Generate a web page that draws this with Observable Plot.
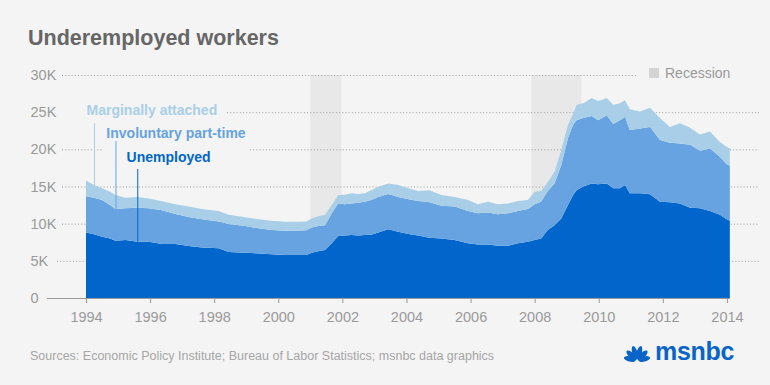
<!DOCTYPE html>
<html>
<head>
<meta charset="utf-8">
<script src="https://cdn.jsdelivr.net/npm/d3@7"></script>
<script src="https://cdn.jsdelivr.net/npm/@observablehq/plot@0.6"></script>
<style>
  html, body { margin: 0; padding: 0; background: #f4f4f4; }
  #wrap { position: relative; width: 770px; height: 385px; background: #f4f4f4; overflow: hidden;
          font-family: "Liberation Sans", Arial, Helvetica, sans-serif; }
  #chart { position: absolute; left: 0; top: 0; }
  .abs { position: absolute; line-height: 1; white-space: nowrap; }
  #title { left: 28px; top: 27.8px; font-size: 21.5px; font-weight: bold; color: #666; }
  #source { left: 30px; top: 350.2px; font-size: 12.5px; color: #a6a6a6; }
  #legSw { left: 649px; top: 68px; width: 10px; height: 10px; background: #d4d4d4; }
  #legTx { left: 665px; top: 66.4px; font-size: 14px; color: #9a9a9a; }
  #logoTx { left: 655px; top: 338.8px; font-size: 25px; font-weight: bold; color: #0a64c8; letter-spacing: -0.3px; }
  #peacock { position: absolute; left: 622px; top: 343px; }
</style>
</head>
<body>
<div id="wrap">
  <div id="chart"></div>
  <div id="title" class="abs">Underemployed workers</div>
  <div id="legSw" class="abs"></div>
  <div id="legTx" class="abs">Recession</div>
  <div id="source" class="abs">Sources: Economic Policy Institute; Bureau of Labor Statistics; msnbc data graphics</div>
  <svg id="peacock" width="30" height="20" viewBox="0 0 30 20">
    <g fill="#0a64c8" transform="translate(15,18)">
      <ellipse cx="0" cy="-7.5" rx="2.6" ry="6" transform="rotate(-75)"/>
      <ellipse cx="0" cy="-8" rx="2.6" ry="6.5" transform="rotate(-45)"/>
      <ellipse cx="0" cy="-8.5" rx="2.6" ry="7" transform="rotate(-15)"/>
      <ellipse cx="0" cy="-8.5" rx="2.6" ry="7" transform="rotate(15)"/>
      <ellipse cx="0" cy="-8" rx="2.6" ry="6.5" transform="rotate(45)"/>
      <ellipse cx="0" cy="-7.5" rx="2.6" ry="6" transform="rotate(75)"/>
    </g>
  </svg>
  <div id="logoTx" class="abs">msnbc</div>
</div>
<script>
// Time (decimal years) and series values in thousands of workers
const years = [1994.00,1994.25,1994.50,1994.75,1994.92,1995.23,1995.60,1995.96,1996.37,1996.79,
  1997.20,1997.62,1998.14,1998.45,1998.97,1999.38,1999.79,2000.20,2000.62,2000.88,
  2001.04,2001.25,2001.46,2001.67,2001.87,2002.08,2002.29,2002.50,2002.70,2002.90,
  2003.12,2003.43,2003.74,2004.06,2004.36,2004.72,2005.09,2005.50,2005.92,2006.23,
  2006.54,2006.85,2007.17,2007.48,2007.79,2008.00,2008.20,2008.41,2008.62,2008.83,
  2009.04,2009.20,2009.31,2009.52,2009.78,2009.98,2010.25,2010.45,2010.66,2010.82,
  2010.97,2011.29,2011.60,2011.91,2012.22,2012.53,2012.85,2013.16,2013.47,2013.78,
  2013.99,2014.09];
const unemployed = [8.8,8.57,8.25,8.0,7.7,7.8,7.57,7.57,7.26,7.26,
  7.0,6.8,6.7,6.2,6.1,6.0,5.9,5.78,5.78,5.8,
  6.1,6.3,6.45,7.35,8.34,8.4,8.47,8.4,8.47,8.5,
  8.8,9.24,8.9,8.6,8.4,8.1,8.0,7.8,7.35,7.2,
  7.2,7.03,7.03,7.35,7.57,7.8,8.0,9.15,9.8,10.7,
  12.5,13.85,14.5,15.0,15.4,15.3,15.4,14.75,14.75,15.2,
  14.1,14.1,13.95,12.95,12.87,12.7,12.15,12.06,11.7,11.2,
  10.6,10.4];
const partTime = [4.9,4.93,4.95,4.5,4.27,4.26,4.58,4.49,4.54,4.04,
  3.9,3.8,3.6,3.75,3.6,3.37,3.25,3.27,3.27,3.3,
  3.4,3.4,3.35,4.05,4.36,4.2,4.23,4.4,4.48,4.7,
  4.8,4.76,4.7,4.7,4.65,4.77,4.4,4.5,4.35,4.2,
  4.3,4.23,4.37,4.35,4.4,4.8,4.95,5.25,5.6,7.2,
  9.0,9.45,9.4,9.2,9.1,8.6,9.2,8.65,9.15,9.2,
  8.5,8.7,9.05,8.3,8.03,8.1,8.45,7.74,8.4,7.8,
  7.4,7.4];
const marginal = [2.1,1.7,1.55,1.8,1.88,1.44,1.45,1.34,1.2,1.3,
  1.4,1.37,1.4,1.25,1.15,1.23,1.25,1.22,1.22,1.2,
  1.2,1.3,1.4,1.1,1.15,1.3,1.4,1.2,1.15,1.3,
  1.37,1.4,1.6,1.45,1.35,1.63,1.45,1.3,1.5,1.2,
  1.45,1.34,1.3,1.35,1.23,1.7,1.45,1.2,1.6,2.0,
  1.8,1.5,2.1,2.0,2.4,2.6,2.3,2.6,2.3,2.2,
  2.8,2.3,2.6,2.95,2.1,2.7,2.3,2.2,2.3,2.0,
  2.35,2.3];

const seriesNames = ["Unemployed", "Involuntary part-time", "Marginally attached"];
const seriesColors = ["#0066cc", "#66a3e0", "#a9cfe8"];

const recessionStart = [2001.0, 2007.9];
const recessionEnd = [2001.97, 2009.46];

const yTicks = [0, 5, 10, 15, 20, 25, 30];
const xTicks = [1994, 1996, 1998, 2000, 2002, 2004, 2006, 2008, 2010, 2012, 2014];

// Label annotations (data units) and the data index each leader points to
const labelX = [1994.0, 1994.62, 1995.25];
const labelY = [25.3, 22.2, 18.9];
const leaderTop = [23.5, 21.1, 17.35];
const leaderIndex = [1, 4, 6];

const table = [];
years.forEach((yr, i) => {
  table.push({year: yr, series: seriesNames[0], value: unemployed[i]});
  table.push({year: yr, series: seriesNames[1], value: partTime[i]});
  table.push({year: yr, series: seriesNames[2], value: marginal[i]});
});
const recessions = recessionStart.map((s, i) => ({start: s, end: recessionEnd[i]}));

const layerTotals = [
  i => unemployed[i],
  i => unemployed[i] + partTime[i],
  i => unemployed[i] + partTime[i] + marginal[i]
];
const labels = [2, 1, 0].map((s, k) => ({
  name: seriesNames[s], color: seriesColors[s],
  lx: labelX[k], ly: labelY[k],
  x: years[leaderIndex[k]], top: leaderTop[k], bottom: layerTotals[s](leaderIndex[k])
}));

const font = '"Liberation Sans", Arial, Helvetica, sans-serif';
const grid = {stroke: "#9a9a9a", strokeDasharray: "1,2.2"};
const chart = Plot.plot({
  width: 770,
  height: 385,
  marginLeft: 86,
  marginRight: 11,
  marginTop: 75,
  marginBottom: 87,
  style: {background: "transparent", fontFamily: font, fontSize: "14.5px", color: "#999", overflow: "visible"},
  x: {domain: [1994, 2015], axis: null},
  y: {domain: [0, 30], axis: null},
  color: {domain: seriesNames, range: seriesColors},
  marks: [
    Plot.rect(recessions, {x1: "start", x2: "end", y1: 0, y2: 30, fill: "#e8e8e8"}),
    Plot.ruleY([10, 15], {...grid, insetLeft: -24}),
    Plot.ruleY([5], {...grid, insetLeft: -29}),
    Plot.ruleY([30], {...grid, insetLeft: -24, insetRight: 121}),
    Plot.ruleY([25], {...grid, insetLeft: 141}),
    Plot.ruleY([20], {...grid, insetLeft: -24, insetRight: 656}),
    Plot.ruleY([20], {...grid, insetLeft: 164}),
    Plot.areaY(table, {x: "year", y: "value", z: "series", fill: "series", order: seriesNames, curve: "linear"}),
    Plot.ruleY([0], {stroke: "#9a9a9a", strokeWidth: 1.2, insetLeft: -39, insetRight: 29}),
    Plot.axisX({ticks: xTicks, tickSize: 5, tickPadding: 8, tickFormat: d => String(d),
      fontSize: 14.5, color: "#9a9a9a", label: null}),
    Plot.text(yTicks, {y: d => d, text: d => d === 0 ? "0" : d + "K", frameAnchor: "left",
      textAnchor: "start", dx: -56, fill: "#9a9a9a", fontSize: 14.5}),
    Plot.ruleX(labels, {x: "x", y1: "top", y2: "bottom", stroke: "color", strokeWidth: 1}),
    Plot.text(labels, {x: "lx", y: "ly", text: "name", fill: "color", textAnchor: "start",
      fontWeight: "bold", fontSize: 14})
  ]
});
document.getElementById("chart").appendChild(chart);
</script>
</body>
</html>
